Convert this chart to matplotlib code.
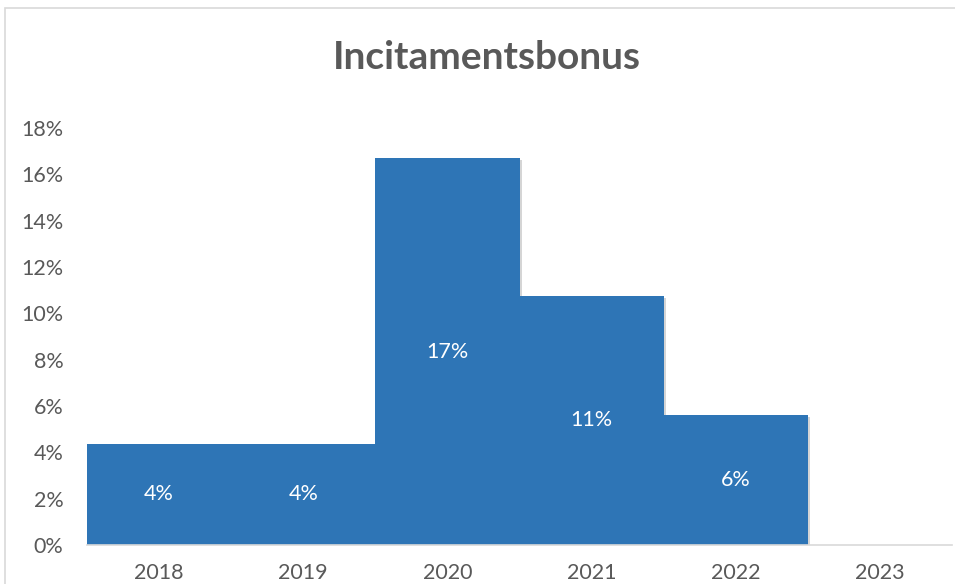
import matplotlib.pyplot as plt
import matplotlib.patheffects as pe
from matplotlib.patches import Rectangle
from matplotlib.ticker import PercentFormatter

# incitamentsbonus per år (andel)
aar = ['2018', '2019', '2020', '2021', '2022', '2023']
bonus = [0.0436, 0.0436, 0.167, 0.1075, 0.0561, 0.0]
etiketter = ['4%', '4%', '17%', '11%', '6%', '']

plt.rcParams['font.family'] = ['Lato', 'DejaVu Sans']

fig = plt.figure(figsize=(9.55, 5.84), dpi=100)
ax = fig.add_axes([0.0911, 0.0668, 0.9058, 0.7140])

x = range(len(aar))
staplar = ax.bar(x, bonus, width=1.0, color='#2E75B6', zorder=2)
for s in staplar:
    s.set_path_effects([pe.SimplePatchShadow(offset=(1.5, -1.5), shadow_rgbFace='#888888', alpha=0.35),
                        pe.Normal()])

for i, (v, t) in enumerate(zip(bonus, etiketter)):
    if t:
        ax.text(i, v / 2, t, ha='center', va='center', color='white', fontsize=15.5, zorder=3)

ax.set_xlim(-0.5, len(aar) - 0.5)
ax.set_ylim(0, 0.18)
ax.set_yticks([i / 100 for i in range(0, 19, 2)])
ax.yaxis.set_major_formatter(PercentFormatter(1.0, decimals=0))
ax.set_xticks(list(x))
ax.set_xticklabels(aar)

for side in ['top', 'right', 'left']:
    ax.spines[side].set_visible(False)
ax.spines['bottom'].set_color('#D9D9D9')
ax.spines['bottom'].set_linewidth(1.2)
ax.spines['bottom'].set_zorder(4)
ax.tick_params(axis='both', length=0, labelsize=15.5, labelcolor='#595959')
ax.tick_params(axis='x', pad=13)
ax.tick_params(axis='y', pad=17)

fig.text(0.51, 0.902, 'Incitamentsbonus', ha='center', va='center',
         fontsize=28, fontweight='bold', color='#595959')

# ramme rundt diagrammet
fig.add_artist(Rectangle((5 / 955, -0.1), 1.2, 1 - 8 / 584 + 0.1, transform=fig.transFigure,
                         fill=False, edgecolor='#D9D9D9', linewidth=1.2))

fig.savefig('out.png', dpi=100)
